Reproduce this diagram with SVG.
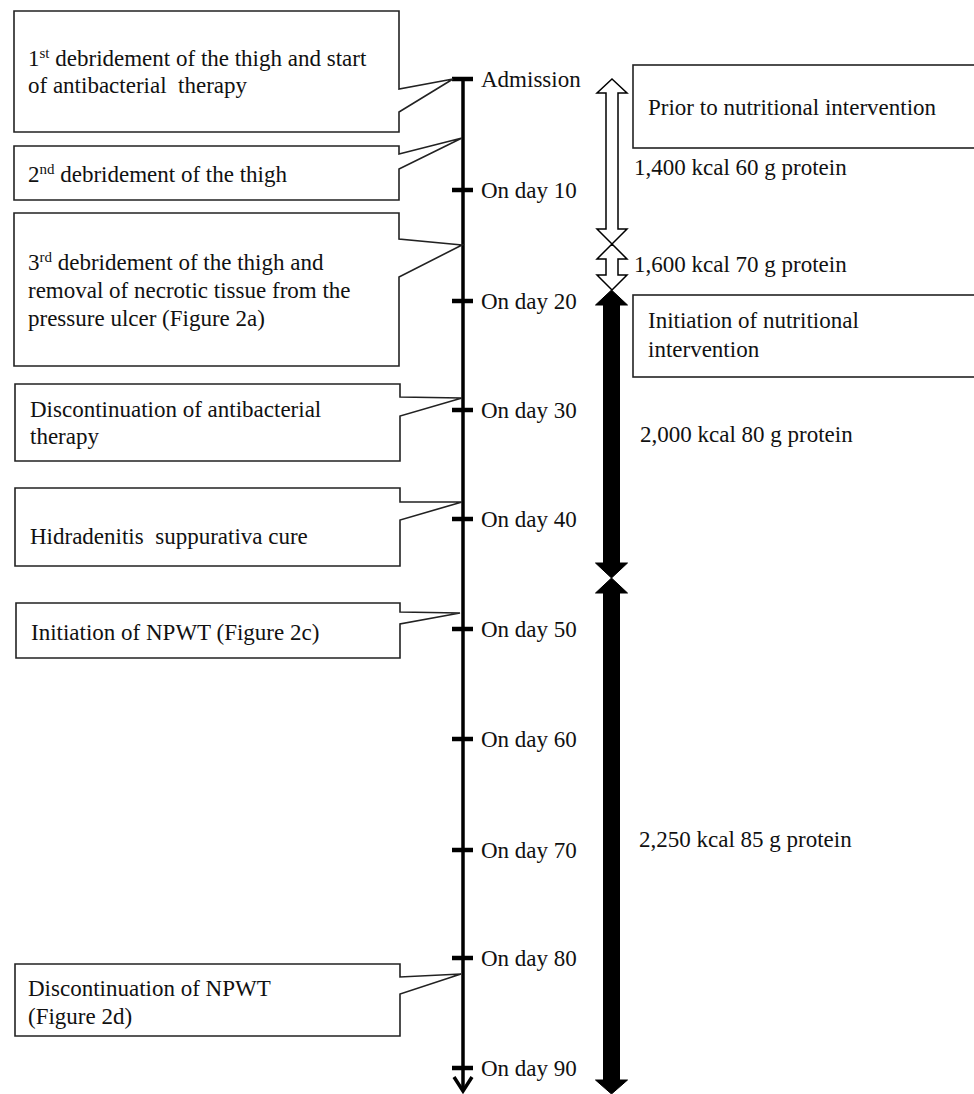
<svg xmlns="http://www.w3.org/2000/svg" width="974" height="1094" viewBox="0 0 974 1094">
<style>
text{font-family:"Liberation Serif","Times New Roman",serif;font-size:23px;fill:#111}
.sup{font-size:15px}
.box{fill:#fff;stroke:#222;stroke-width:1.6}
.tick{stroke:#000;stroke-width:4.5}
.axis{stroke:#000;stroke-width:3.5;fill:none}
.wa{fill:#fff;stroke:#000;stroke-width:1.5}
.ba{fill:#000;stroke:#000;stroke-width:1}
</style>
<rect width="974" height="1094" fill="#fff"/>
<g id="connectors">
<line class="axis" x1="463" y1="79" x2="463" y2="1090"/>
<polyline class="axis" points="454,1077 463,1091 472,1077"/>
<line class="tick" x1="452" y1="79" x2="473" y2="79"/>
<line class="tick" x1="452" y1="190" x2="473" y2="190"/>
<line class="tick" x1="452" y1="301" x2="473" y2="301"/>
<line class="tick" x1="452" y1="410" x2="473" y2="410"/>
<line class="tick" x1="452" y1="519" x2="473" y2="519"/>
<line class="tick" x1="452" y1="629" x2="473" y2="629"/>
<line class="tick" x1="452" y1="739" x2="473" y2="739"/>
<line class="tick" x1="452" y1="850" x2="473" y2="850"/>
<line class="tick" x1="452" y1="958" x2="473" y2="958"/>
<line class="tick" x1="452" y1="1068" x2="473" y2="1068"/>
<polygon class="wa" points="612,79 627,93 618,93 618,229 627,229 612,244 597,229 606,229 606,93 597,93"/>
<polygon class="wa" points="612,244 627,259 618,259 618,275 627,275 612,290 597,275 606,275 606,259 597,259"/>
<polygon class="ba" points="611.5,290 627.5,305 619.5,305 619.5,563 627.5,563 611.5,578 595.5,563 603.5,563 603.5,305 595.5,305"/>
<polygon class="ba" points="611.5,578 627.5,593 619.5,593 619.5,1080 627.5,1080 611.5,1094 595.5,1080 603.5,1080 603.5,593 595.5,593"/>
</g>
<g id="axis-labels">
<text x="481" y="87">Admission</text>
<text x="481" y="198">On day 10</text>
<text x="481" y="309">On day 20</text>
<text x="481" y="418">On day 30</text>
<text x="481" y="527">On day 40</text>
<text x="481" y="637">On day 50</text>
<text x="481" y="747">On day 60</text>
<text x="481" y="858">On day 70</text>
<text x="481" y="966">On day 80</text>
<text x="481" y="1076">On day 90</text>
</g>
<g id="c1">
<path class="box" d="M14,11 H399 V89 L453,79 L399,112 V132 H14 Z"/>
<text x="28" y="66">1<tspan class="sup" dy="-8">st</tspan><tspan dy="8"> debridement of the thigh and start</tspan></text>
<text x="28" y="93" xml:space="preserve">of antibacterial  therapy</text>
</g>
<g id="c2">
<path class="box" d="M14,146 H399 V154 L462,138 L399,169 V200 H14 Z"/>
<text x="28" y="182">2<tspan class="sup" dy="-8">nd</tspan><tspan dy="8"> debridement of the thigh</tspan></text>
</g>
<g id="c3">
<path class="box" d="M14,213 H399 V239 L462,245 L399,277 V366 H14 Z"/>
<text x="28" y="270">3<tspan class="sup" dy="-8">rd</tspan><tspan dy="8"> debridement of the thigh and</tspan></text>
<text x="28" y="298">removal of necrotic tissue from the</text>
<text x="28" y="326">pressure ulcer (Figure 2a)</text>
</g>
<g id="c4">
<path class="box" d="M15,384 H400 V397 L462,398 L400,416 V461 H15 Z"/>
<text x="30" y="417">Discontinuation of antibacterial</text>
<text x="30" y="444">therapy</text>
</g>
<g id="c5">
<path class="box" d="M15,488 H400 V502 L462,502 L400,520 V566 H15 Z"/>
<text x="30" y="544" xml:space="preserve">Hidradenitis  suppurativa cure</text>
</g>
<g id="c6">
<path class="box" d="M16,603 H400 V612 L460,613 L400,624 V658 H16 Z"/>
<text x="31" y="640">Initiation of NPWT (Figure 2c)</text>
</g>
<g id="c7">
<path class="box" d="M15,964 H400 V977 L461,974 L400,994 V1036 H15 Z"/>
<text x="28" y="996">Discontinuation of NPWT</text>
<text x="28" y="1024">(Figure 2d)</text>
</g>
<g id="n1">
<rect class="box" x="633" y="65" width="345" height="83"/>
<text x="648" y="115">Prior to nutritional intervention</text>
</g>
<g id="n2">
<rect class="box" x="633" y="295" width="345" height="82"/>
<text x="648" y="328">Initiation of nutritional</text>
<text x="648" y="357">intervention</text>
</g>
<g id="intake-labels">
<text x="634" y="175">1,400 kcal 60 g protein</text>
<text x="634" y="272">1,600 kcal 70 g protein</text>
<text x="640" y="442">2,000 kcal 80 g protein</text>
<text x="639" y="847">2,250 kcal 85 g protein</text>
</g>
</svg>
